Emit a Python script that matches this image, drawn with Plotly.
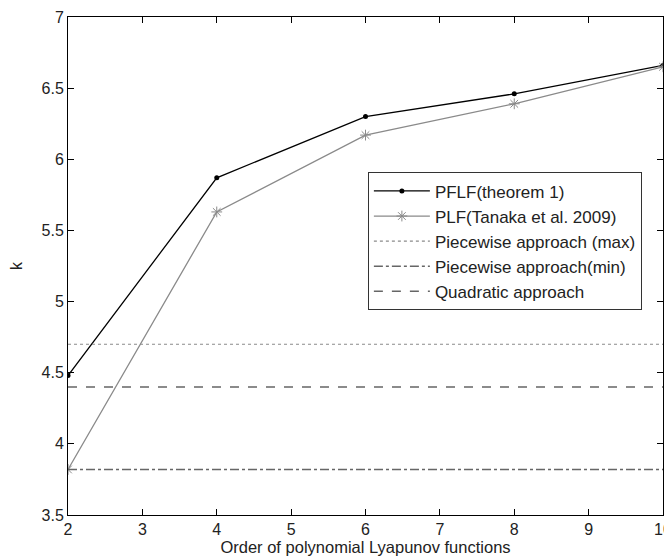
import plotly.graph_objects as go

orders = [2, 4, 6, 8, 10]
pflf = [4.48, 5.87, 6.30, 6.46, 6.66]
plf = [3.82, 5.63, 6.17, 6.39, 6.65]

x_span = [2, 10]
piecewise_max = 4.70
piecewise_min = 3.82
quadratic = 4.40

FONT = "Liberation Sans, Arial, sans-serif"

fig = go.Figure()

fig.add_trace(go.Scatter(
    x=orders, y=pflf, mode="lines+markers", name="PFLF(theorem 1)",
    line=dict(color="black", width=1.3),
    marker=dict(symbol="circle", size=5, color="black"),
))
fig.add_trace(go.Scatter(
    x=orders, y=plf, mode="lines+markers", name="PLF(Tanaka et al. 2009)",
    line=dict(color="#8a8a8a", width=1.3),
    marker=dict(symbol="asterisk-open", size=9, color="#8a8a8a", line=dict(width=1, color="#8a8a8a")),
))
fig.add_trace(go.Scatter(
    x=x_span, y=[piecewise_max] * 2, mode="lines", name="Piecewise approach (max)",
    line=dict(color="#8a8a8a", width=1.2, dash="dot"),
))
fig.add_trace(go.Scatter(
    x=x_span, y=[piecewise_min] * 2, mode="lines", name="Piecewise approach(min)",
    line=dict(color="#666666", width=1.5, dash="dashdot"),
))
fig.add_trace(go.Scatter(
    x=x_span, y=[quadratic] * 2, mode="lines", name="Quadratic approach",
    line=dict(color="#666666", width=1.5, dash="dash"),
))

axis_common = dict(
    showgrid=False, zeroline=False, showline=True, linecolor="black", linewidth=1,
    mirror="ticks", ticks="inside", ticklen=6, tickcolor="black", automargin=False,
    tickfont=dict(size=16, color="#222222", family=FONT),
)

fig.update_xaxes(
    range=[2, 10], dtick=1,
    title=dict(text="Order of polynomial Lyapunov functions", font=dict(size=16.5, color="#222222"), standoff=2),
    **axis_common,
)
fig.update_yaxes(
    range=[3.5, 7], dtick=0.5,
    title=dict(text="k", font=dict(size=16, color="#222222"), standoff=16),
    **axis_common,
)

# page body has an 8px margin, so the figure is sized to fit inside the window
fig.update_layout(
    width=664, height=548,
    margin=dict(l=60, r=9, t=9, b=41),
    plot_bgcolor="white", paper_bgcolor="white",
    font=dict(family=FONT, color="#222222"),
    legend=dict(
        x=0.504, y=0.688, xanchor="left", yanchor="top",
        bordercolor="#333333", borderwidth=1, bgcolor="white",
        font=dict(size=17), itemwidth=56,
    ),
)

fig.write_html("out.html")
